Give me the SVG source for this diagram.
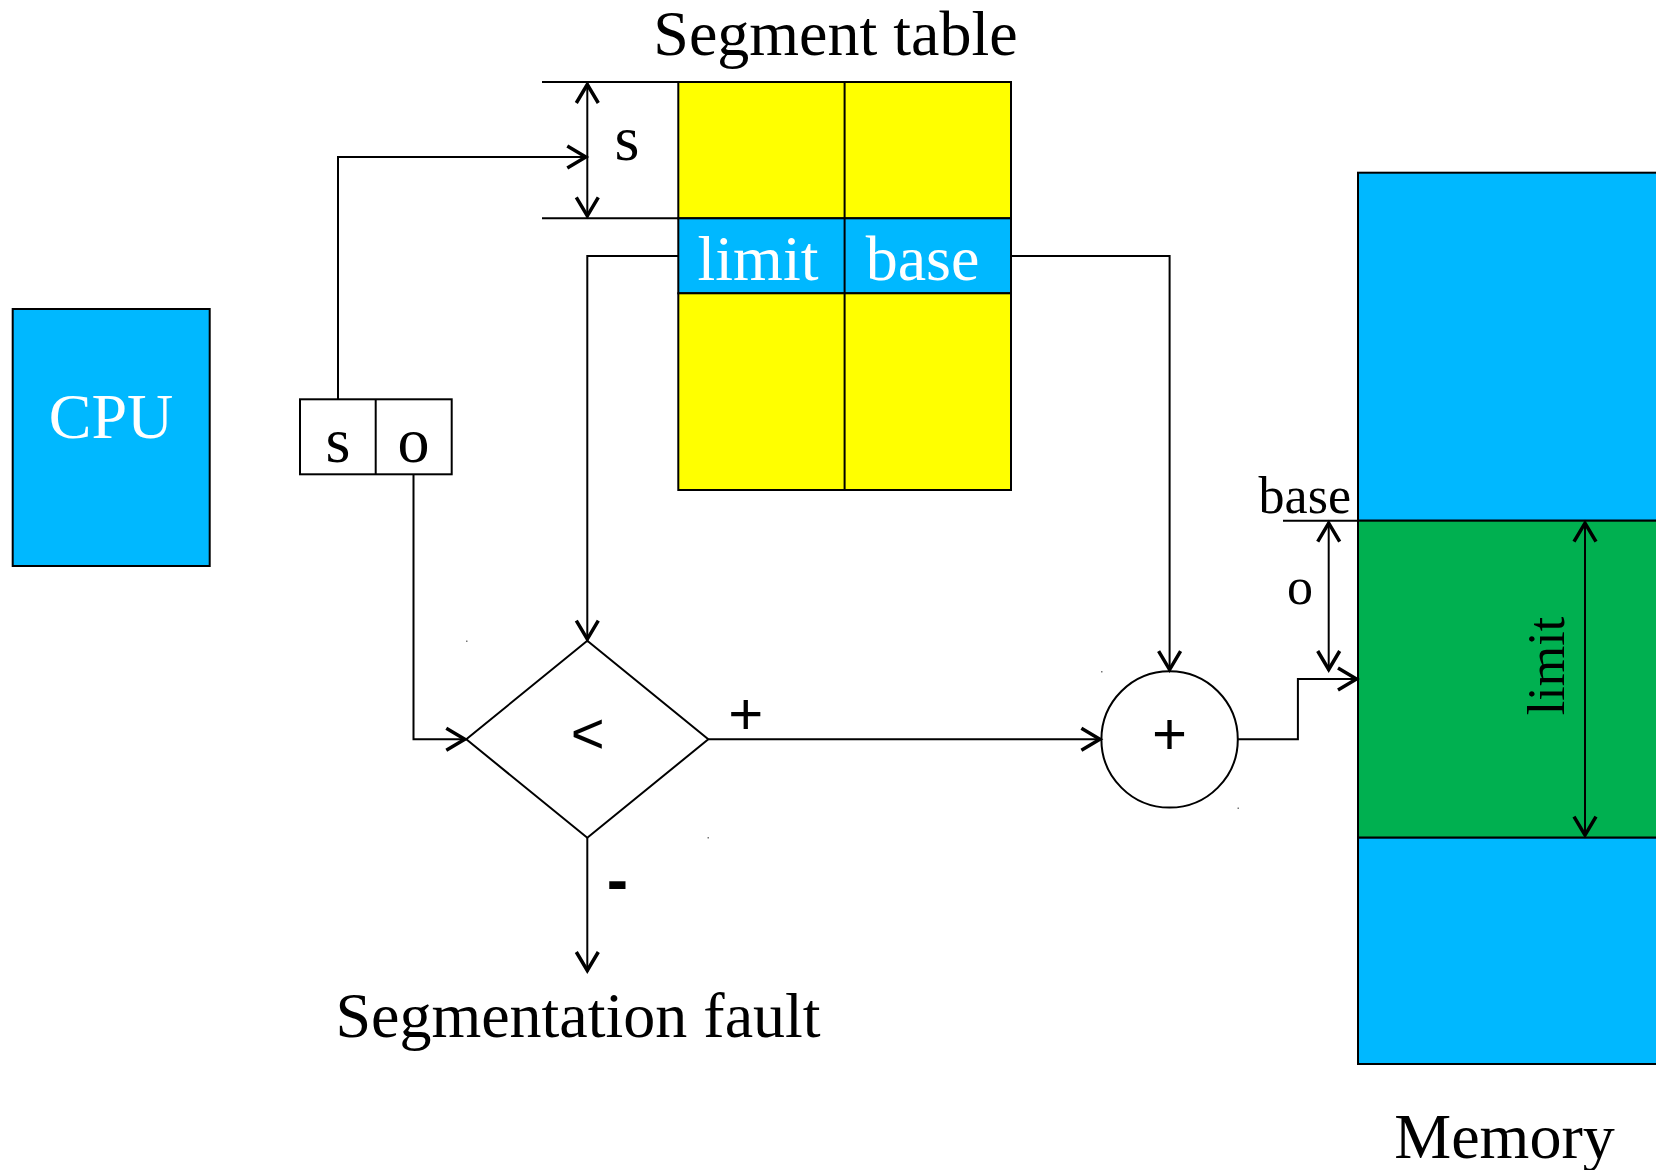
<svg xmlns="http://www.w3.org/2000/svg" width="1656" height="1170" viewBox="0 0 1656 1170">
  <style>
    .t { font-family: "Liberation Serif", "Times New Roman", serif; fill: #000; }
    .w { fill: #fff; }
    .s { font-family: "Liberation Sans", Arial, sans-serif; fill: #000; }
    .ln { fill: none; stroke: #000; stroke-width: 2; }
    .box { stroke: #000; stroke-width: 2; }
    .blue { fill: #00B8FF; }
    .yellow { fill: #FFFF00; }
    .green { fill: #00B050; }
  </style>
  <defs>
    <marker id="arr" viewBox="-28 -15 32 30" refX="0" refY="0" markerWidth="32" markerHeight="30" markerUnits="userSpaceOnUse" orient="auto-start-reverse" overflow="visible">
      <path d="M-20,-11 L-1.5,0 L-20,11" fill="none" stroke="#000" stroke-width="3.5"/>
    </marker>
  </defs>
  <rect width="1656" height="1170" fill="#fff"/>

  <text class="t" x="835.5" y="55" font-size="64" text-anchor="middle">Segment table</text>

  <g id="cpu">
    <rect class="box blue" x="12.7" y="309" width="197" height="257"/>
    <text class="t w" x="111" y="437.7" font-size="64" text-anchor="middle">CPU</text>
  </g>

  <g id="so-register">
    <rect class="box" fill="#fff" x="300" y="399.3" width="151.7" height="75"/>
    <line class="ln" x1="375.7" y1="399.3" x2="375.7" y2="474.3"/>
    <text class="t" x="338" y="462" font-size="64" text-anchor="middle">s</text>
    <text class="t" x="413.5" y="462" font-size="64" text-anchor="middle">o</text>
  </g>

  <g id="segment-table">
    <rect class="box yellow" x="678.3" y="82" width="332.7" height="136.3"/>
    <rect class="box blue" x="678.3" y="218.3" width="332.7" height="75"/>
    <rect class="box yellow" x="678.3" y="293.3" width="332.7" height="196.7"/>
    <line class="ln" x1="844.6" y1="82" x2="844.6" y2="490"/>
    <text class="t w" x="758" y="280" font-size="64" text-anchor="middle">limit</text>
    <text class="t w" x="922.5" y="280" font-size="64" text-anchor="middle">base</text>
  </g>

  <g id="compare">
    <polygon class="ln" points="587.3,640.7 708.3,739.3 587.3,837.7 466.3,739.3"/>
    <text class="s" x="587.7" y="753" font-size="58" text-anchor="middle">&lt;</text>
    <rect x="466" y="640.5" width="1.5" height="1.5" fill="#777"/>
    <rect x="707.5" y="837" width="1.5" height="1.5" fill="#777"/>
  </g>

  <g id="adder">
    <circle class="ln" cx="1169.6" cy="739.4" r="68.2"/>
    <text class="s" x="1169.6" y="754" font-size="60" text-anchor="middle">+</text>
    <rect x="1101" y="671" width="1.5" height="1.5" fill="#777"/>
    <rect x="1237.5" y="807.5" width="1.5" height="1.5" fill="#777"/>
  </g>

  <g id="memory">
    <rect class="box blue" x="1358" y="172.7" width="320" height="348"/>
    <rect class="box green" x="1358" y="520.7" width="320" height="317"/>
    <rect class="box blue" x="1358" y="837.7" width="320" height="226.3"/>
    <text class="t" x="1504.5" y="1158" font-size="64" text-anchor="middle">Memory</text>
  </g>

  <g id="connectors">
    <!-- s bracket -->
    <line class="ln" x1="542" y1="82" x2="678.3" y2="82"/>
    <line class="ln" x1="542" y1="218.3" x2="678.3" y2="218.3"/>
    <line class="ln" x1="587.3" y1="83" x2="587.3" y2="217.3" marker-start="url(#arr)" marker-end="url(#arr)"/>
    <!-- s field to segment table -->
    <polyline class="ln" points="338,399.3 338,157 587.3,157" marker-end="url(#arr)"/>
    <!-- o field to compare -->
    <polyline class="ln" points="413.5,474.3 413.5,739.3 466.3,739.3" marker-end="url(#arr)"/>
    <!-- limit to compare -->
    <polyline class="ln" points="678.3,256 587.3,256 587.3,640.7" marker-end="url(#arr)"/>
    <!-- base to adder -->
    <polyline class="ln" points="1011,256 1169.6,256 1169.6,671.2" marker-end="url(#arr)"/>
    <!-- compare + to adder -->
    <line class="ln" x1="708.3" y1="739.3" x2="1101.4" y2="739.3" marker-end="url(#arr)"/>
    <!-- compare - to fault -->
    <line class="ln" x1="587.3" y1="837.7" x2="587.3" y2="972" marker-end="url(#arr)"/>
    <!-- adder to memory -->
    <polyline class="ln" points="1237.8,739.3 1297.9,739.3 1297.9,679 1358,679" marker-end="url(#arr)"/>
    <!-- o bracket -->
    <line class="ln" x1="1283" y1="520.7" x2="1358" y2="520.7"/>
    <line class="ln" x1="1328.7" y1="521.7" x2="1328.7" y2="671" marker-start="url(#arr)" marker-end="url(#arr)"/>
    <!-- limit bracket -->
    <line class="ln" x1="1585" y1="521.7" x2="1585" y2="836.7" marker-start="url(#arr)" marker-end="url(#arr)"/>
  </g>

  <g id="labels">
    <text class="t" x="627" y="160" font-size="64" text-anchor="middle">s</text>
    <text class="s" x="745.7" y="734" font-size="60" text-anchor="middle">+</text>
    <text class="s" x="617.5" y="902" font-size="64" font-weight="bold" text-anchor="middle">-</text>
    <text class="t" x="578" y="1036.7" font-size="64" text-anchor="middle">Segmentation fault</text>
    <text class="t" x="1351" y="513" font-size="52" text-anchor="end">base</text>
    <text class="t" x="1300" y="604" font-size="52" text-anchor="middle">o</text>
    <text class="t" transform="translate(1564,666) rotate(-90)" font-size="52" text-anchor="middle">limit</text>
  </g>
</svg>
